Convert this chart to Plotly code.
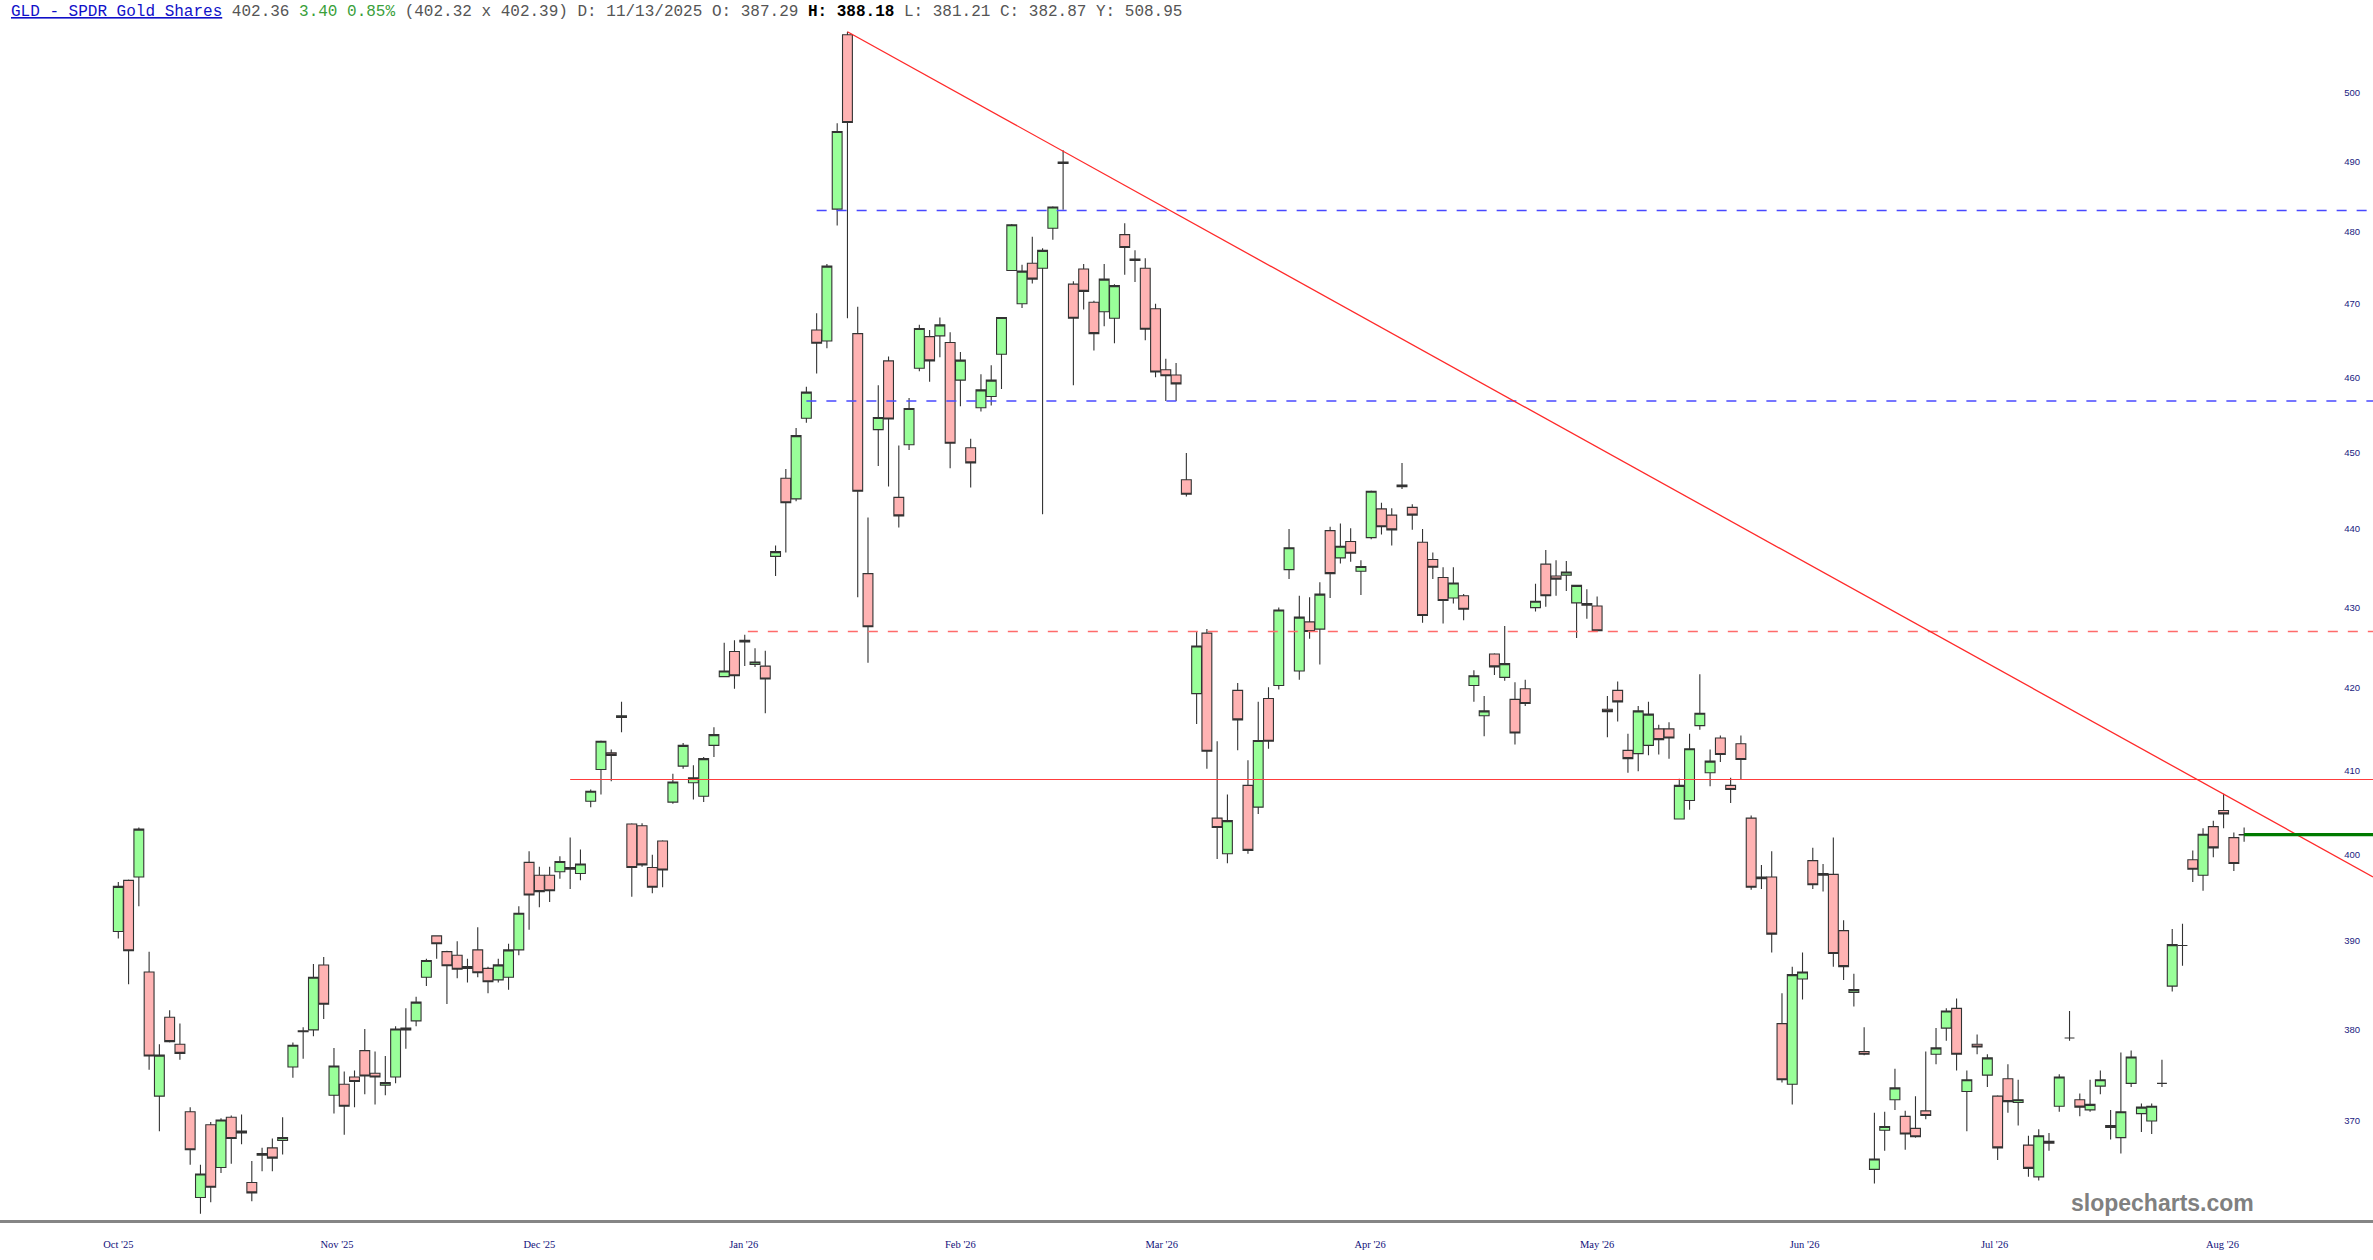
import math
import plotly.graph_objects as go

# ---------------- data ----------------
open_ = [391.1, 397.0, 397.4, 386.5, 372.7, 381.4, 378.4, 371.0, 361.8, 369.6,
         365.0, 370.4, 368.9, 363.4, 366.3, 367.1, 367.9, 375.9, 379.9, 380.0,
         387.29, 372.8, 374.0, 374.8, 377.7, 375.2, 373.9, 374.8, 380.2, 381.0,
         385.9, 390.6, 388.8, 388.4, 386.9, 389.0, 386.9, 385.6, 385.9, 389.0,
         399.1, 397.6, 397.6, 398.0, 398.3, 397.8, 406.3, 410.1, 412.1, 416.4,
         403.6, 403.4, 398.5, 401.6, 406.2, 410.5, 408.5, 406.9, 413.0, 421.4,
         424.5, 425.9, 422.9, 422.7, 436.5, 446.6, 443.9, 454.5, 466.4, 464.9,
         483.2, 508.5, 465.9, 434.3, 453.0, 462.2, 444.1, 451.0, 461.2, 465.5,
         465.6, 464.7, 459.6, 450.6, 455.9, 457.4, 463.1, 474.6, 470.0, 475.6,
         474.9, 480.5, 489.9, 472.7, 474.8, 470.2, 468.9, 468.0, 479.6, 476.2,
         474.9, 469.3, 461.0, 460.3, 446.4, 419.3, 426.8, 404.3, 400.1, 419.7,
         408.2, 405.6, 418.7, 420.3, 434.8, 422.1, 428.2, 427.3, 439.8, 436.3,
         438.4, 434.6, 438.9, 442.6, 441.8, 445.7, 442.8, 438.3, 436.1, 433.8,
         431.2, 431.5, 420.3, 416.6, 424.2, 421.3, 418.6, 419.9, 430.0, 435.5,
         434.0, 434.1, 430.6, 430.5, 430.2, 417.4, 419.7, 412.4, 412.0, 413.0,
         415.0, 415.0, 404.2, 406.4, 415.4, 409.7, 413.9, 408.2, 413.2, 404.3,
         397.4, 397.4, 380.7, 374.0, 385.7, 399.3, 397.8, 397.7, 391.2, 384.2,
         377.6, 364.8, 369.0, 372.3, 370.5, 369.2, 371.1, 377.3, 380.2, 382.4,
         373.2, 378.4, 375.0, 372.7, 374.6, 372.0, 367.4, 364.0, 367.8, 371.6,
         379.1, 372.3, 371.2, 373.8, 369.5, 368.2, 374.1, 370.8, 370.0, 374.1,
         384.9, 389.5, 399.4, 397.6, 403.3, 405.2, 402.0, 402.3]

high = [396.8, 397.1, 403.2, 388.8, 378.4, 382.2, 380.7, 371.5, 365.3, 369.9,
        370.3, 370.6, 370.7, 365.7, 367.1, 368.1, 370.4, 378.6, 380.3, 387.4,
        388.18, 378.0, 375.4, 375.5, 380.1, 377.6, 377.1, 380.4, 382.4, 383.7,
        388.0, 390.6, 388.9, 390.0, 388.0, 391.6, 387.1, 388.0, 389.7, 394.0,
        400.4, 398.6, 398.6, 399.8, 402.0, 400.6, 407.7, 413.6, 412.5, 418.3,
        403.7, 403.7, 400.0, 401.7, 409.6, 413.3, 410.6, 411.6, 415.2, 425.6,
        425.9, 426.6, 424.9, 424.6, 437.9, 447.8, 453.2, 458.7, 468.7, 475.5,
        495.5, 508.95, 469.6, 441.5, 458.9, 462.8, 450.9, 457.2, 467.1, 466.4,
        468.1, 466.1, 463.4, 451.8, 460.4, 461.6, 468.1, 481.1, 475.4, 479.3,
        477.7, 483.6, 491.6, 473.1, 475.5, 470.4, 475.5, 472.7, 481.2, 477.4,
        476.3, 470.0, 462.5, 461.9, 449.9, 427.0, 427.3, 413.5, 407.1, 420.6,
        411.2, 418.3, 420.1, 430.0, 440.0, 431.5, 431.3, 433.2, 440.3, 440.7,
        440.1, 436.0, 445.0, 443.4, 442.7, 448.6, 443.2, 440.0, 437.0, 435.1,
        435.1, 431.7, 422.2, 419.0, 424.3, 427.7, 420.7, 421.0, 433.0, 437.3,
        436.0, 435.9, 432.8, 432.3, 431.4, 419.0, 420.8, 414.4, 417.8, 418.3,
        415.5, 415.8, 409.0, 414.4, 421.7, 412.5, 414.2, 409.1, 414.2, 404.6,
        398.8, 400.4, 384.1, 387.1, 388.7, 400.8, 398.9, 402.0, 392.4, 386.3,
        380.3, 370.9, 371.0, 375.7, 371.1, 372.7, 377.6, 380.2, 382.4, 383.5,
        375.5, 379.5, 377.3, 372.8, 376.2, 374.5, 368.4, 369.1, 368.7, 375.1,
        382.1, 373.0, 374.5, 375.5, 371.2, 377.5, 377.7, 371.9, 371.9, 376.7,
        391.4, 392.0, 400.5, 403.1, 404.0, 407.2, 402.6, 403.2]

low = [390.3, 385.1, 394.0, 375.6, 368.9, 378.6, 376.7, 365.3, 360.1, 361.3,
       364.4, 365.4, 367.5, 361.4, 364.6, 364.6, 366.4, 374.7, 376.8, 379.3,
       381.21, 370.8, 368.5, 371.5, 372.9, 371.8, 372.8, 374.1, 377.9, 380.4,
       384.9, 388.0, 382.9, 385.8, 385.3, 385.9, 384.1, 385.3, 384.5, 388.4,
       391.3, 393.9, 394.5, 397.2, 396.0, 397.0, 405.6, 407.1, 408.7, 414.6,
       395.1, 398.6, 395.5, 396.2, 406.0, 410.2, 406.5, 406.2, 411.6, 421.4,
       419.9, 422.7, 422.6, 416.9, 434.0, 437.0, 443.6, 453.9, 460.5, 463.9,
       480.9, 468.0, 431.3, 423.1, 448.2, 445.5, 440.2, 450.3, 460.8, 459.4,
       462.7, 447.9, 456.1, 445.4, 455.4, 456.2, 458.4, 474.6, 469.4, 472.8,
       441.9, 478.9, 483.1, 458.9, 469.2, 463.6, 466.9, 464.6, 474.0, 473.0,
       465.0, 460.0, 456.8, 456.8, 444.2, 415.6, 410.2, 399.5, 399.0, 412.4,
       400.1, 404.8, 412.6, 419.8, 433.6, 421.0, 426.1, 422.9, 431.2, 435.6,
       435.8, 431.6, 438.7, 439.3, 437.9, 445.2, 439.9, 428.1, 433.6, 428.0,
       430.5, 428.4, 418.3, 414.1, 421.6, 420.9, 413.1, 417.8, 429.5, 430.1,
       431.5, 432.1, 426.2, 428.6, 427.0, 414.0, 415.9, 409.7, 409.9, 411.8,
       411.9, 411.4, 404.2, 405.3, 414.9, 408.1, 411.0, 406.1, 408.9, 395.9,
       396.0, 388.7, 374.2, 371.8, 383.4, 396.0, 395.7, 387.1, 385.6, 382.6,
       377.2, 363.3, 366.8, 371.2, 366.9, 368.2, 370.2, 376.2, 378.8, 375.5,
       368.9, 377.3, 373.7, 365.8, 370.9, 369.5, 364.0, 363.6, 366.8, 371.0,
       378.8, 370.5, 371.0, 372.9, 368.0, 366.5, 373.7, 368.8, 368.6, 373.7,
       384.3, 387.2, 396.8, 395.8, 399.7, 403.1, 398.1, 401.5]

close = [396.3, 388.9, 403.0, 377.1, 377.2, 378.7, 377.4, 366.9, 364.3, 362.9,
         370.1, 368.1, 368.7, 362.3, 366.5, 366.0, 368.2, 378.3, 379.8, 385.9,
         382.87, 376.0, 371.6, 374.3, 374.9, 374.8, 374.2, 380.1, 380.0, 383.1,
         387.8, 389.7, 387.2, 386.8, 387.1, 386.4, 385.4, 387.3, 389.0, 393.2,
         395.3, 395.7, 395.8, 399.2, 398.5, 398.9, 407.5, 413.5, 411.8, 416.6,
         398.5, 398.8, 396.2, 398.2, 408.6, 413.0, 409.1, 411.4, 414.3, 422.1,
         421.5, 425.7, 423.2, 421.1, 437.1, 443.4, 452.2, 458.0, 464.6, 475.2,
         494.3, 495.6, 444.9, 427.6, 454.6, 454.4, 441.7, 455.8, 466.6, 462.2,
         467.1, 451.2, 462.3, 448.6, 458.3, 459.6, 468.1, 481.0, 474.5, 473.4,
         477.4, 483.5, 489.7, 468.0, 471.7, 465.9, 473.4, 472.5, 477.8, 476.0,
         466.5, 460.7, 460.2, 459.1, 444.5, 425.2, 412.3, 403.2, 404.0, 416.1,
         400.5, 413.6, 413.5, 429.7, 437.6, 428.8, 427.0, 431.7, 434.3, 437.8,
         436.9, 435.2, 444.9, 440.3, 439.9, 445.5, 441.8, 429.0, 435.1, 430.9,
         433.1, 429.8, 421.5, 417.2, 422.6, 423.0, 414.5, 418.1, 430.8, 431.5,
         433.6, 434.5, 432.8, 430.3, 427.1, 417.1, 418.3, 411.4, 417.2, 416.8,
         413.7, 413.9, 408.2, 412.6, 416.9, 411.1, 411.9, 407.7, 411.3, 396.2,
         397.2, 390.8, 374.5, 386.2, 386.5, 396.5, 397.6, 388.6, 387.1, 384.5,
         377.3, 365.9, 369.4, 373.6, 368.6, 368.3, 370.6, 378.0, 382.1, 377.3,
         374.5, 378.1, 376.9, 367.1, 372.1, 372.3, 364.9, 368.4, 367.6, 374.8,
         379.1, 371.5, 371.8, 374.5, 369.3, 371.0, 377.0, 371.5, 371.6, 374.1,
         389.6, 389.5, 398.3, 402.4, 400.8, 404.8, 398.96, 402.36]

# session number of each bar (trading sessions, left to right)
session = list(range(len(close)))

# month tick labels and their session positions
month_labels = ["Oct '25", "Nov '25", "Dec '25", "Jan '26", "Feb '26", "Mar '26",
                "Apr '26", "May '26", "Jun '26", "Jul '26", "Aug '26"]
month_pos = [0, 21.3, 41.0, 60.9, 82.0, 101.6, 121.9, 144.0, 164.2, 182.7, 204.9]

price_ticks = [370, 380, 390, 400, 410, 420, 430, 440, 450, 460, 470, 480, 490, 500]

# drawn levels (price)
blue_levels = [483.0, 456.8]
red_dashed_level = 427.0
red_level = 408.9
last_price = 402.36
trend_prices = [508.95, 397.4]

# ---------------- figure ----------------
X_MIN, X_MAX = -11.52, 219.55
Y_MIN, Y_MAX = 359.43, 513.7

fig = go.Figure()

fig.add_trace(go.Candlestick(
    x=session, open=open_, high=high, low=low, close=close,
    increasing=dict(fillcolor="#99ff99", line=dict(color="#333333", width=1.1)),
    decreasing=dict(fillcolor="#ffb3b3", line=dict(color="#333333", width=1.1)),
    whiskerwidth=0, showlegend=False, hoverinfo="skip",
))

def hline(x0, y, color, width, dash="solid"):
    fig.add_trace(go.Scatter(x=[x0, X_MAX], y=[y, y], mode="lines",
                             line=dict(color=color, width=width, dash=dash),
                             showlegend=False, hoverinfo="skip"))

hline(68.0, blue_levels[0], "#4848ff", 1.6, "10px,10px")
hline(67.0, blue_levels[1], "#4848ff", 1.6, "10px,10px")
hline(61.3, red_dashed_level, "#ff6a6a", 1.6, "10px,10px")
hline(44.0, red_level, "#ff3c3c", 1.1)

fig.add_trace(go.Scatter(x=[71, X_MAX], y=trend_prices, mode="lines",
                         line=dict(color="#ff2a2a", width=1.3),
                         showlegend=False, hoverinfo="skip"))

hline(207.0, last_price, "#007a00", 3.2)

header = ("<span style='color:#1010c8'><u>GLD - SPDR Gold Shares</u></span>"
          "<span style='color:#555555'> 402.36 </span>"
          "<span style='color:#3aa03a'>3.40 0.85%</span>"
          "<span style='color:#555555'> (402.32 x 402.39) D: 11/13/2025 O: 387.29 </span>"
          "<b><span style='color:#000000'>H: 388.18</span></b>"
          "<span style='color:#555555'> L: 381.21 C: 382.87 Y: 508.95</span>")

fig.add_annotation(text=header, xref="paper", yref="paper",
                   x=9 / 2373, y=(1220 - 12) / 1220, xanchor="left", yanchor="middle",
                   showarrow=False, font=dict(family="Liberation Mono", size=16, color="#555555"))

fig.add_annotation(text="<b>slopecharts.com</b>", xref="paper", yref="paper",
                   x=2162 / 2373, y=(1220 - 1203) / 1220, xanchor="center", yanchor="middle",
                   showarrow=False, font=dict(family="Liberation Sans", size=23, color="#808080"))

fig.update_layout(
    width=2373, height=1260,
    margin=dict(l=0, r=0, t=0, b=40),
    paper_bgcolor="white", plot_bgcolor="white",
    boxgap=0.04, boxgroupgap=0,
    showlegend=False,
    xaxis=dict(
        range=[X_MIN, X_MAX], rangeslider=dict(visible=False),
        tickmode="array", tickvals=month_pos, ticktext=month_labels,
        showgrid=False, zeroline=False,
        showline=True, linecolor="#858585", linewidth=3,
        ticks="outside", ticklen=12, tickcolor="rgba(0,0,0,0)",
        tickfont=dict(family="Liberation Serif", size=10.5, color="#10107a"),
    ),
    yaxis=dict(
        type="log", side="right",
        range=[math.log10(Y_MIN), math.log10(Y_MAX)],
        tickmode="array", tickvals=price_ticks, ticktext=[str(v) for v in price_ticks],
        ticklabelposition="inside", ticks="", ticklabelstandoff=10,
        showgrid=False, zeroline=False, showline=False,
        tickfont=dict(family="Liberation Sans", size=9.5, color="#1a1a80"),
    ),
)

fig.write_html("out.html",
               config={"displayModeBar": False},
               post_script="document.body.style.margin='0';document.body.style.overflow='hidden';")
